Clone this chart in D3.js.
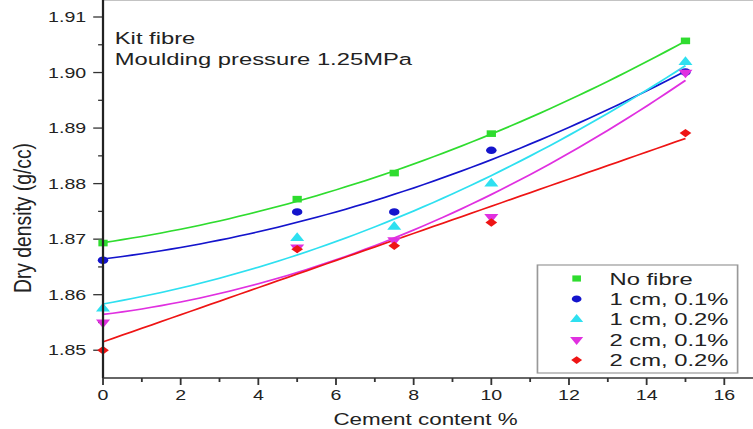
<!DOCTYPE html>
<html>
<head>
<meta charset="utf-8">
<script src="https://cdn.jsdelivr.net/npm/d3@7"></script>
<style>
  html, body { margin: 0; padding: 0; background: #fff; }
  svg { display: block; }
  text { font-family: "Liberation Sans", Arial, sans-serif; fill: #222; }
</style>
</head>
<body>
<div id="chart"></div>
<script>
// cement content (%)
var cement = [0, 5, 7.5, 10, 15];

// dry density (g/cc)
var noFibre  = [1.8693, 1.8772, 1.8819, 1.8890, 1.9057];
var cm1_01   = [1.8662, 1.8749, 1.8749, 1.8860, 1.9001];
var cm1_02   = [1.8575, 1.8702, 1.8722, 1.8800, 1.9019];
var cm2_01   = [1.8550, 1.8685, 1.8698, 1.8740, 1.9000];
var cm2_02   = [1.8500, 1.8682, 1.8688, 1.8730, 1.8891];

var seriesNames = ["No fibre", "1 cm, 0.1%", "1 cm, 0.2%", "2 cm, 0.1%", "2 cm, 0.2%"];
var seriesVals  = [noFibre, cm1_01, cm1_02, cm2_01, cm2_02];
var seriesCols  = ["#2fdc2f", "#1414cc", "#2ee0f0", "#e030e0", "#ee1414"];
var seriesSym   = ["square", "circle", "up", "down", "diamond"];
var fitOrder    = [2, 2, 2, 2, 1];

var xTicks = [0, 2, 4, 6, 8, 10, 12, 14, 16];
var yTicks = [1.85, 1.86, 1.87, 1.88, 1.89, 1.90, 1.91];

// the picture is stretched sideways, so draw in a narrower box and stretch it
var W = 753, H = 429, VW = 538;

var svg = d3.select("#chart").append("svg")
	.attr("width", W)
	.attr("height", H)
	.attr("viewBox", "0 0 " + VW + " " + H)
	.attr("preserveAspectRatio", "none");

var x = d3.scaleLinear().domain([0, 16]).range([73.6, 517.5]);
var y = d3.scaleLinear().domain([1.845, 1.91]).range([378, 17]);
var left = x(0), bottom = y.range()[0], top = y.range()[1], right = VW;

// least squares polynomial fit (order 1 or 2)
function polyfit(xs, ys, order) {
	var n = order + 1;
	var A = [], b = [];
	for (var i = 0; i < n; i++) {
		A.push([]);
		for (var j = 0; j < n; j++) {
			A[i].push(d3.sum(xs, function(v) { return Math.pow(v, i + j); }));
		}
		b.push(d3.sum(xs, function(v, k) { return ys[k] * Math.pow(v, i); }));
	}
	// gauss elimination
	for (var c = 0; c < n; c++) {
		for (var r = c + 1; r < n; r++) {
			var f = A[r][c] / A[c][c];
			for (var k = c; k < n; k++) A[r][k] -= f * A[c][k];
			b[r] -= f * b[c];
		}
	}
	var coef = new Array(n).fill(0);
	for (var r2 = n - 1; r2 >= 0; r2--) {
		var s = b[r2];
		for (var k2 = r2 + 1; k2 < n; k2++) s -= A[r2][k2] * coef[k2];
		coef[r2] = s / A[r2][r2];
	}
	return function(v) {
		var out = 0;
		for (var i = 0; i < n; i++) out += coef[i] * Math.pow(v, i);
		return out;
	};
}

var symTypes = { square: d3.symbolSquare, circle: d3.symbolCircle, up: d3.symbolTriangle, down: d3.symbolTriangle, diamond: d3.symbolSquare };
var symRot   = { square: 0, circle: 0, up: 0, down: 180, diamond: 45 };

function drawSymbol(g, name, size, px, py, col) {
	g.append("path")
		.attr("d", d3.symbol().type(symTypes[name]).size(name === "diamond" ? size * 0.8 : size)())
		.attr("transform", "translate(" + px + "," + py + ")" + (symRot[name] ? " rotate(" + symRot[name] + ")" : ""))
		.attr("fill", col);
}

// frame
svg.append("line").attr("x1", left).attr("x2", right).attr("y1", top).attr("y2", top)
	.attr("stroke", "#888").attr("stroke-width", 1.2);

// y ticks
var yMinor = d3.range(1.855, 1.909, 0.01);
svg.selectAll(".ymaj").data(yTicks).enter().append("line")
	.attr("x1", left - 7).attr("x2", left)
	.attr("y1", function(d) { return y(d); }).attr("y2", function(d) { return y(d); })
	.attr("stroke", "#333").attr("stroke-width", 1.3);
svg.selectAll(".ymin").data(yMinor).enter().append("line")
	.attr("x1", left - 3.5).attr("x2", left)
	.attr("y1", function(d) { return y(d); }).attr("y2", function(d) { return y(d); })
	.attr("stroke", "#333").attr("stroke-width", 1.3);
svg.selectAll(".ylab").data(yTicks).enter().append("text")
	.attr("x", left - 12).attr("y", function(d) { return y(d); })
	.attr("dy", "0.36em").attr("text-anchor", "end")
	.style("font-size", "14px")
	.text(function(d) { return d.toFixed(2); });

// x ticks
var xMinor = d3.range(1, 16, 2);
svg.selectAll(".xmaj").data(xTicks).enter().append("line")
	.attr("x1", function(d) { return x(d); }).attr("x2", function(d) { return x(d); })
	.attr("y1", bottom).attr("y2", bottom + 7)
	.attr("stroke", "#333").attr("stroke-width", 1.3);
svg.selectAll(".xmin").data(xMinor).enter().append("line")
	.attr("x1", function(d) { return x(d); }).attr("x2", function(d) { return x(d); })
	.attr("y1", bottom).attr("y2", bottom + 4)
	.attr("stroke", "#333").attr("stroke-width", 1.3);
svg.selectAll(".xlab").data(xTicks).enter().append("text")
	.attr("x", function(d) { return x(d); }).attr("y", 400)
	.attr("text-anchor", "middle")
	.style("font-size", "14px")
	.text(function(d) { return d; });

// axis titles
svg.append("text").attr("x", 304).attr("y", 425).attr("text-anchor", "middle")
	.style("font-size", "16px").text("Cement content %");
svg.append("text")
	.attr("transform", "translate(16,218) rotate(-90)")
	.attr("text-anchor", "middle").attr("dy", "0.35em")
	.attr("textLength", 150).attr("lengthAdjust", "spacingAndGlyphs")
	.style("font-size", "17px").text("Dry density (g/cc)");

// annotation
svg.append("text").attr("x", 82).attr("y", 44).style("font-size", "17px").text("Kit fibre");
svg.append("text").attr("x", 82).attr("y", 65).style("font-size", "17px").text("Moulding pressure 1.25MPa");

// fit curves
var xs = d3.range(0, 15.001, 0.25);
var line = d3.line().x(function(d) { return x(d[0]); }).y(function(d) { return y(d[1]); });
seriesVals.forEach(function(vals, i) {
	var f = polyfit(cement, vals, fitOrder[i]);
	svg.append("path")
		.attr("d", line(xs.map(function(v) { return [v, f(v)]; })))
		.attr("fill", "none")
		.attr("stroke", seriesCols[i])
		.attr("stroke-width", 1.6);
});

// points
seriesVals.forEach(function(vals, i) {
	vals.forEach(function(d, k) {
		drawSymbol(svg, seriesSym[i], 44, x(cement[k]), y(d), seriesCols[i]);
	});
});

// axes lines
svg.append("line").attr("x1", left).attr("x2", left).attr("y1", top).attr("y2", bottom)
	.attr("stroke", "#222").attr("stroke-width", 1.6);
svg.append("line").attr("x1", left).attr("x2", right).attr("y1", bottom).attr("y2", bottom)
	.attr("stroke", "#333").attr("stroke-width", 1.5);

// legend
var lg = svg.append("g");
lg.append("rect").attr("x", 384).attr("y", 265).attr("width", 143).attr("height", 108)
	.attr("fill", "#fff").attr("stroke", "#999").attr("stroke-width", 1.2);
seriesNames.forEach(function(name, i) {
	var cy = 278.5 + i * 20.4;
	drawSymbol(lg, seriesSym[i], 38, 412, cy, seriesCols[i]);
	lg.append("text").attr("x", 435.5).attr("y", cy).attr("dy", "0.36em")
		.style("font-size", "17px").text(name);
});
</script>
</body>
</html>
